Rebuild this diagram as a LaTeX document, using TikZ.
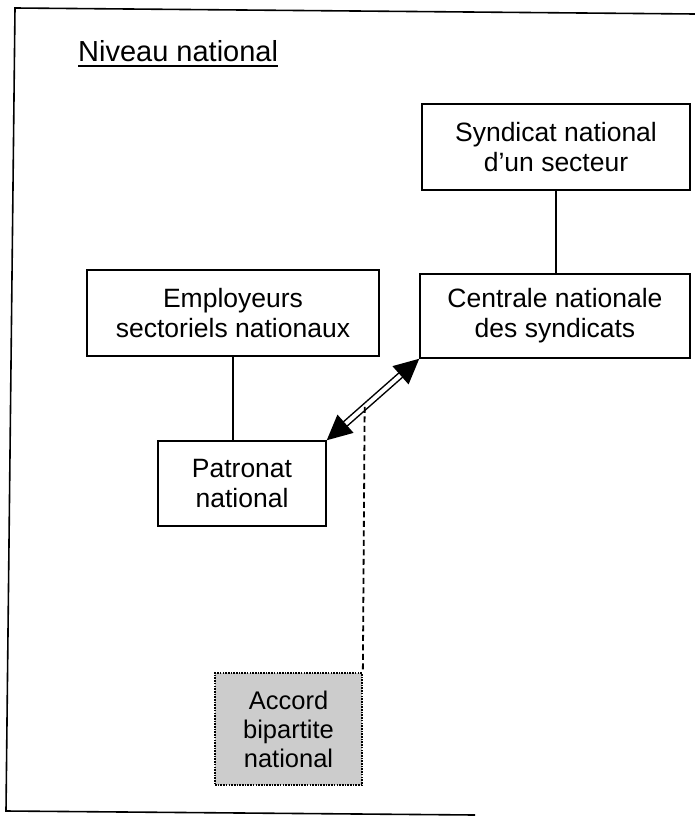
\documentclass[tikz,border=0pt]{standalone}
\usepackage{fontspec}
\setmainfont{Liberation Sans}
\usetikzlibrary{arrows.meta,calc}

\begin{document}
\begin{tikzpicture}[x=1pt,y=-1pt,
  box/.style={draw=black, line width=1.5pt, inner sep=0pt, align=center,
    font=\fontsize{26.5}{30}\selectfont},
  link/.style={draw=black, line width=1.5pt},
  accordbox/.style={box, fill=gray!40, line width=1.7pt,
    dash pattern=on 1.6pt off 1.1pt, font=\fontsize{25.5}{29}\selectfont},
  leader/.style={draw=black, line width=1.8pt, dash pattern=on 6pt off 3.5pt},
  bothways/.style={line width=1.5pt, double=white, double distance=4pt,
    {Triangle[length=25pt,width=24pt]}-{Triangle[length=25pt,width=24pt]}}
]
\useasboundingbox (0,0) rectangle (695,816);

% outer frame (open on the right)
\draw[line width=1.6pt] (695,14) -- (15,8) -- (6,811) -- (475,815);

% title
\node[anchor=base west, inner sep=0pt, font=\fontsize{29}{32}\selectfont]
  (title) at (78,61) {Niveau national};
\draw[line width=1.5pt] ([yshift=-4.5pt]title.south west) -- ([yshift=-4.5pt]title.south east);

% organisations
\node[box, minimum width=268pt, minimum height=86pt] (syn) at (556,147)
  {Syndicat national\\d’un secteur};
\node[box, minimum width=270pt, minimum height=84pt] (cen) at (555,316)
  {Centrale nationale\\des syndicats};
\node[box, minimum width=292pt, minimum height=86pt] (emp) at (233,313)
  {Employeurs\\sectoriels nationaux};
\node[box, minimum width=168pt, minimum height=85pt] (pat) at (242,483.5)
  {Patronat\\national};
\node[accordbox, minimum width=147pt, minimum height=112pt] (acc) at (288.5,729)
  {Accord\\bipartite\\national};

% hierarchy links
\draw[link] (syn.south) -- (syn.south |- cen.north);
\draw[link] (emp.south) -- (emp.south |- pat.north);

% bipartite negotiation
\draw[bothways] (pat.north east) -- (cen.south west);
\path (pat.north east) -- (cen.south west) coordinate[pos=0.41] (deal);
\draw[leader] (deal) -- (acc.north east);
\end{tikzpicture}
\end{document}
